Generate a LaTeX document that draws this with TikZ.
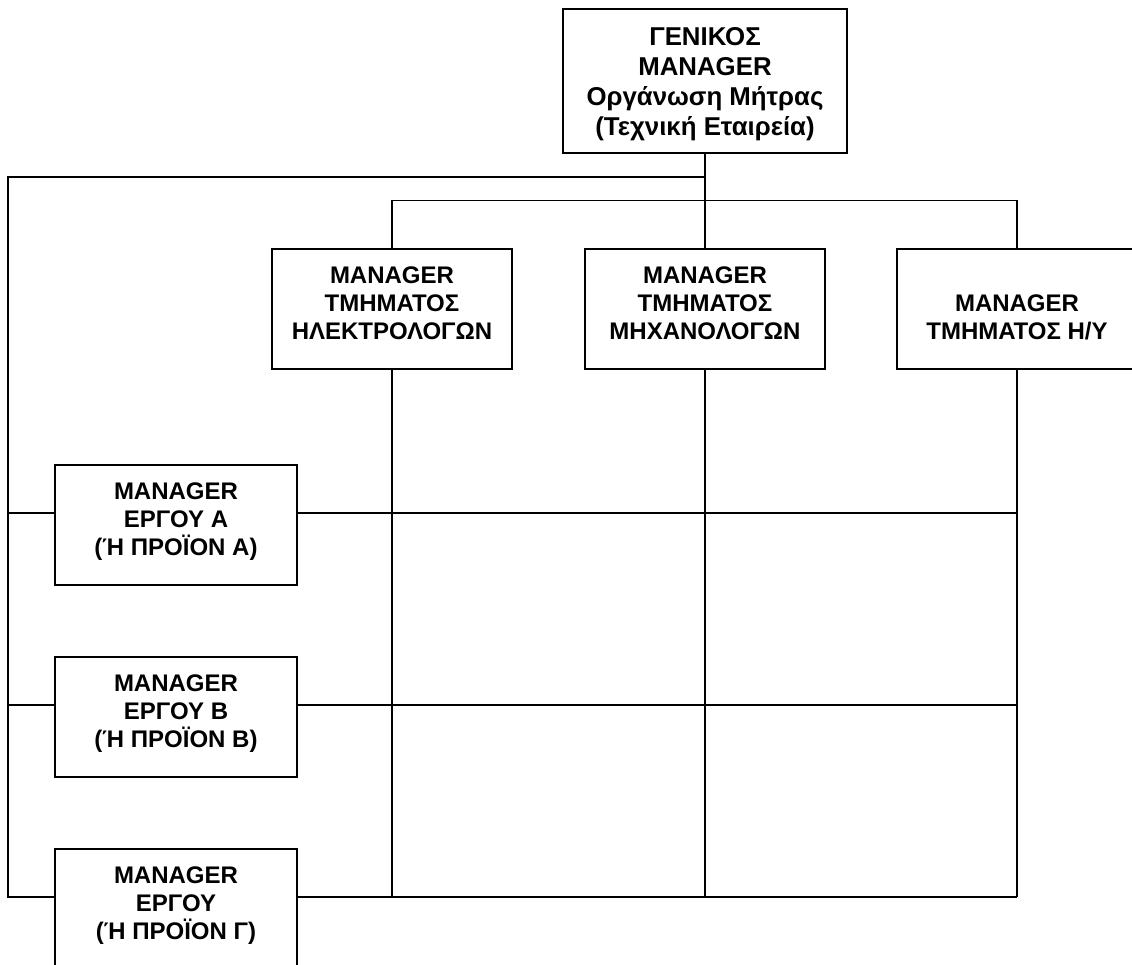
\documentclass[tikz,border=0pt]{standalone}
\usepackage{fontspec}
\setmainfont{Liberation Sans}
\begin{document}
\begin{tikzpicture}[x=1pt,y=-1pt,line width=1.5pt,
  box/.style={draw,line width=1.5pt,inner sep=0pt,align=center,
    font=\bfseries\fontsize{24}{28}\selectfont,
    text height=71.2pt,text depth=10pt,minimum height=120pt},
  deptbox/.style={box,minimum width=240pt},
  projbox/.style={box,minimum width=242pt},
  headbox/.style={draw,line width=1.5pt,inner sep=0pt,align=center,
    font=\bfseries\fontsize{25.8}{30}\selectfont,
    text height=118.6pt,text depth=10pt,
    minimum width=284pt,minimum height=144pt}]
\clip (0,0) rectangle (1132,964);

% boxes
\node[headbox] (top) at (705,81) {ΓΕΝΙΚΟΣ\\MANAGER\\Οργάνωση Μήτρας\\(Τεχνική Εταιρεία)};
\node[deptbox] (dE) at (392,309) {MANAGER\\ΤΜΗΜΑΤΟΣ\\ΗΛΕΚΤΡΟΛΟΓΩΝ};
\node[deptbox] (dM) at (705,309) {MANAGER\\ΤΜΗΜΑΤΟΣ\\ΜΗΧΑΝΟΛΟΓΩΝ};
\node[deptbox] (dH) at (1017,309) {\mbox{}\\MANAGER\\ΤΜΗΜΑΤΟΣ Η/Υ};
\node[projbox] (pA) at (176,525) {MANAGER\\ΕΡΓΟΥ Α\\(Ή ΠΡΟΪΟΝ Α)};
\node[projbox] (pB) at (176,717) {MANAGER\\ΕΡΓΟΥ Β\\(Ή ΠΡΟΪΟΝ Β)};
\node[projbox] (pC) at (176,909) {MANAGER\\ΕΡΓΟΥ\\(Ή ΠΡΟΪΟΝ Γ)};

% junction points
\coordinate (j1) at (705,177);
\coordinate (lft) at (8,177);
\coordinate (rA) at ([yshift=12pt]pA.west);
\coordinate (rB) at ([yshift=12pt]pB.west);
\coordinate (rC) at ([yshift=12pt]pC.west);
\coordinate (eA) at ([yshift=12pt]pA.east);
\coordinate (eB) at ([yshift=12pt]pB.east);
\coordinate (eC) at ([yshift=12pt]pC.east);

% hierarchy lines
\draw (top.south) -- (dM.north);
\draw (dE.north) -- ++(0,-48) -| (dH.north);
\draw (j1) -- (lft) |- (rC);
\draw (lft |- rA) -- (rA);
\draw (lft |- rB) -- (rB);

% matrix grid
\draw (dE.south) -- (dE.south |- eC);
\draw (dM.south) -- (dM.south |- eC);
\draw (dH.south) -- (dH.south |- eC);
\draw (eA) -- (dH.south |- eA);
\draw (eB) -- (dH.south |- eB);
\draw (eC) -- (dH.south |- eC);
\end{tikzpicture}
\end{document}
